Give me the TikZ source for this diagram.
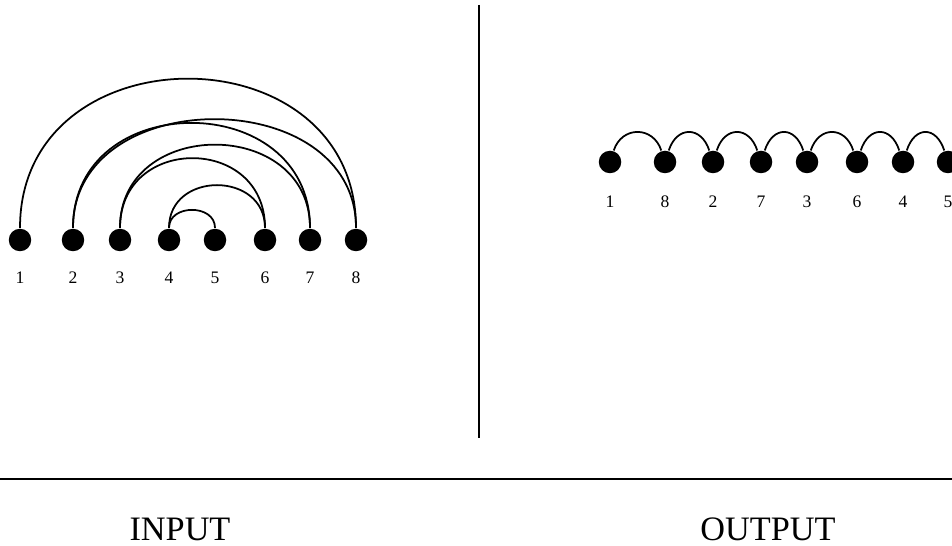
\documentclass[tikz,border=0pt]{standalone}
\usepackage{fontspec}
\setmainfont{Liberation Serif}

\begin{document}
\begin{tikzpicture}[x=0.02cm, y=-0.02cm, line width=1pt, line join=round,
    dot/.style={circle, fill, inner sep=0pt, minimum size=0.45cm},
    num/.style={font=\fontsize{10}{12}\selectfont, inner sep=0pt},
    caption/.style={font=\fontsize{19.5}{23}\selectfont, inner sep=0pt, anchor=base},
    bow/.style={out=90, in=90, distance=#1},
    hop/.style={out=72, in=108, distance=0.52cm}]
    \useasboundingbox (0,0) rectangle (952,546);
    \coordinate (T) at (479,5);
    \coordinate (M) at (479,438);
    \coordinate (W) at (0,479);
    \coordinate (E) at (952,479);
    \draw[line width=0.9pt] (T) -- (M);
    \draw[line width=1.2pt] (W) -- (E);
    % вхідні вершини
    \node[dot] (a1) at (20,240) {};
    \node[dot] (a2) at (73,240) {};
    \node[dot] (a3) at (120,240) {};
    \node[dot] (a4) at (169,240) {};
    \node[dot] (a5) at (215,240) {};
    \node[dot] (a6) at (265,240) {};
    \node[dot] (a7) at (310,240) {};
    \node[dot] (a8) at (356,240) {};
    \node[num] (la1) at (20,278) {1};
    \node[num] (la2) at (73,278) {2};
    \node[num] (la3) at (120,278) {3};
    \node[num] (la4) at (169,278) {4};
    \node[num] (la5) at (215,278) {5};
    \node[num] (la6) at (265,278) {6};
    \node[num] (la7) at (310,278) {7};
    \node[num] (la8) at (356,278) {8};
    \draw (a1) to[bow=3.98cm] (a8);
    \draw (a2) to[bow=2.9cm] (a8);
    \draw (a2) to[bow=2.8cm] (a7);
    \draw (a3) to[bow=2.22cm] (a7);
    \draw (a3) to[bow=1.86cm] (a6);
    \draw (a4) to[bow=1.14cm] (a6);
    \draw (a4) to[bow=0.48cm] (a5);
    % вихідний ланцюжок
    \node[dot] (b1) at (610,162) {};
    \node[dot] (b2) at (665,162) {};
    \node[dot] (b3) at (713,162) {};
    \node[dot] (b4) at (761,162) {};
    \node[dot] (b5) at (807,162) {};
    \node[dot] (b6) at (857,162) {};
    \node[dot] (b7) at (903,162) {};
    \node[dot] (b8) at (948,162) {};
    \node[num] (lb1) at (610,202) {1};
    \node[num] (lb2) at (665,202) {8};
    \node[num] (lb3) at (713,202) {2};
    \node[num] (lb4) at (761,202) {7};
    \node[num] (lb5) at (807,202) {3};
    \node[num] (lb6) at (857,202) {6};
    \node[num] (lb7) at (903,202) {4};
    \node[num] (lb8) at (948,202) {5};
    \draw (b1) to[hop] (b2);
    \draw (b2) to[hop] (b3);
    \draw (b3) to[hop] (b4);
    \draw (b4) to[hop] (b5);
    \draw (b5) to[hop] (b6);
    \draw (b6) to[hop] (b7);
    \draw (b7) to[hop] (b8);
    \node[caption] (in) at (180,540) {INPUT};
    \node[caption] (out) at (768,540) {OUTPUT};
\end{tikzpicture}
\end{document}
